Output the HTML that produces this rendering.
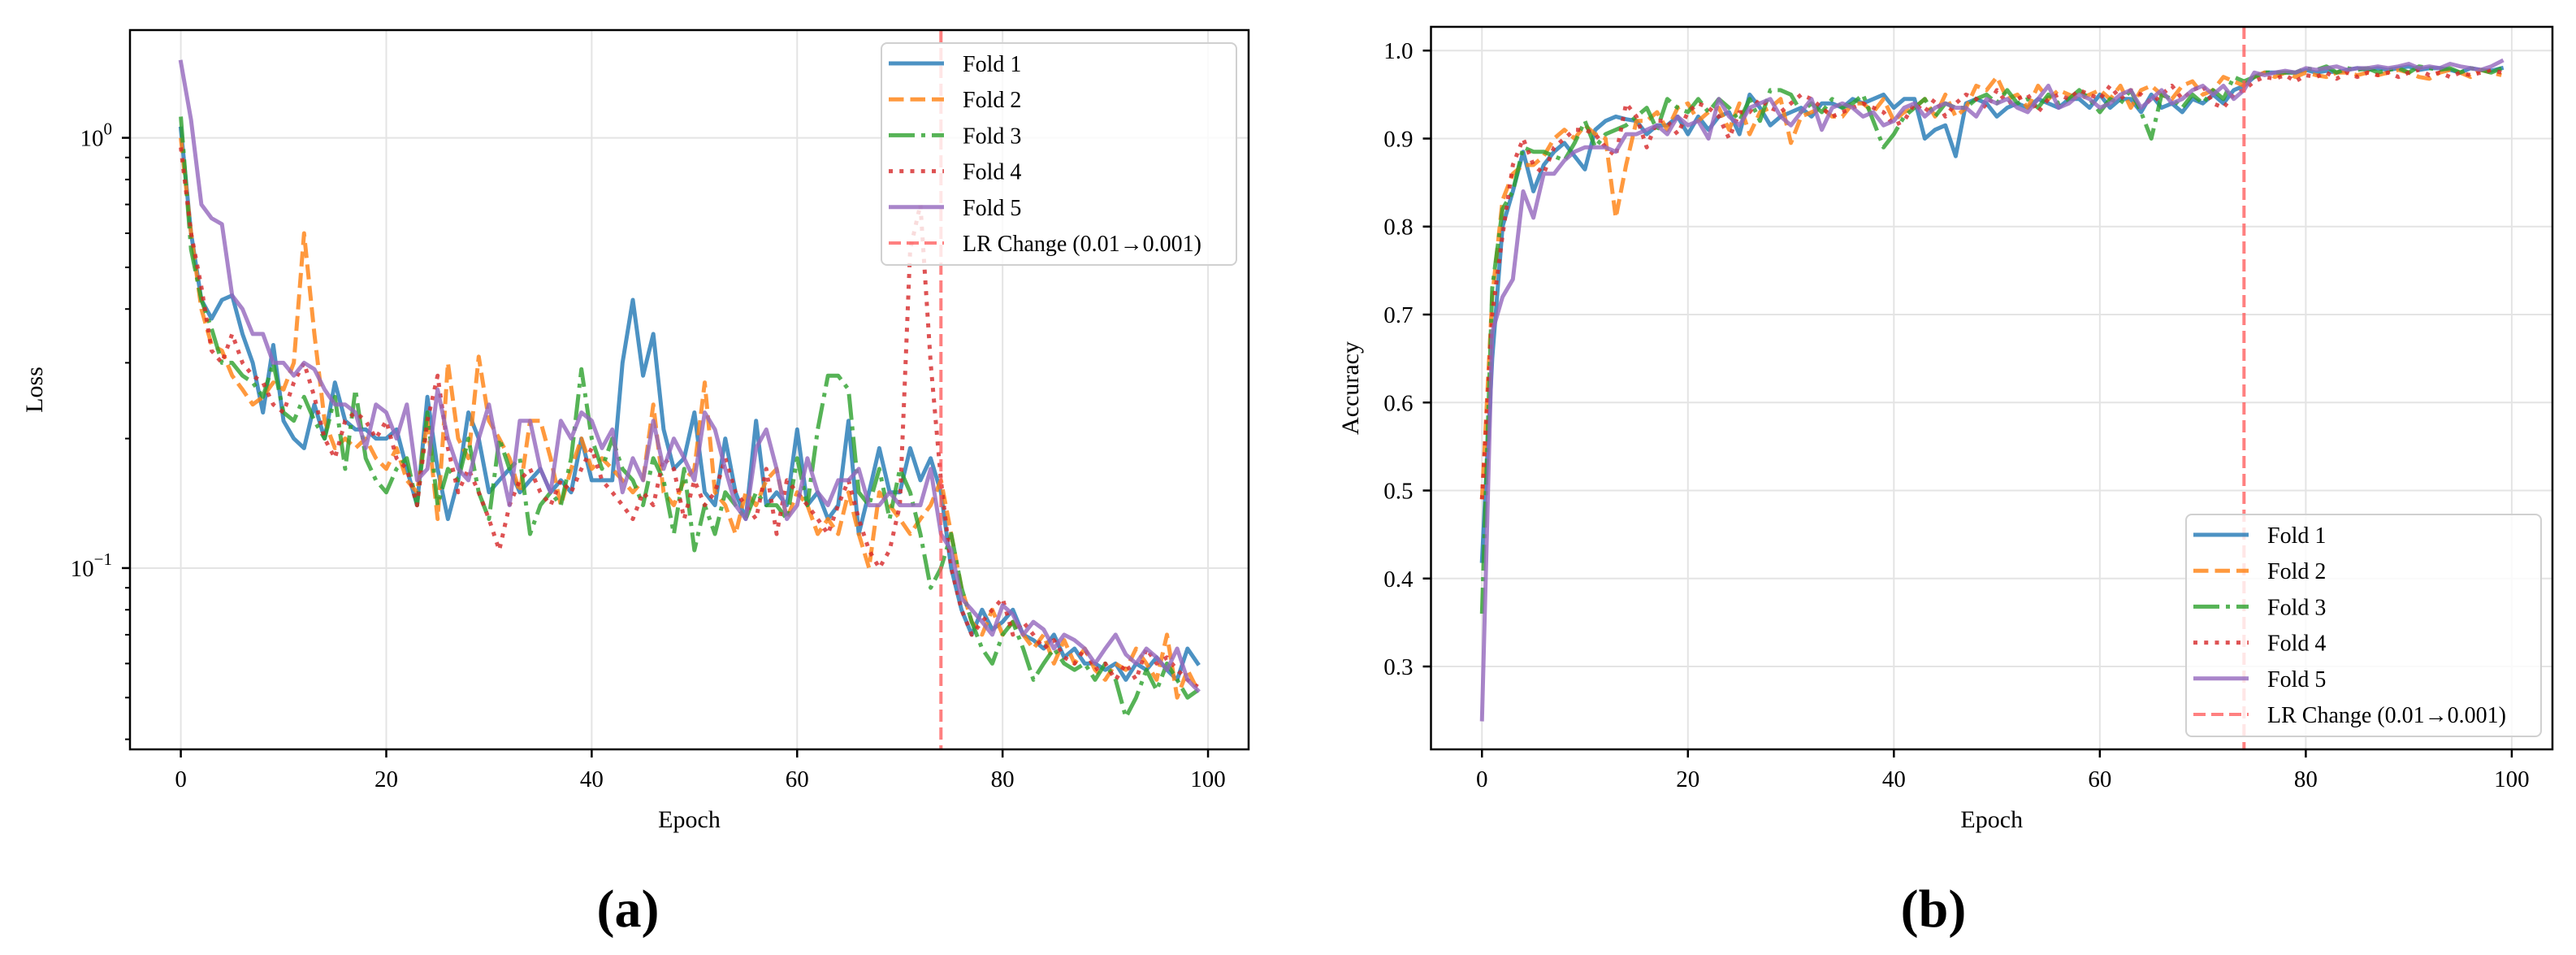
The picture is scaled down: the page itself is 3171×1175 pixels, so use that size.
<!DOCTYPE html>
<html><head><meta charset="utf-8"><title>Cross-validation loss and accuracy by epoch</title>
<style>html,body{margin:0;padding:0;background:#fff;}svg{display:block;font-family:"Liberation Serif",serif;}</style>
</head><body>
<svg id="fig" width="3171" height="1175" viewBox="0 0 3171 1175" xmlns="http://www.w3.org/2000/svg"></svg>
<script>
const epochs = Array.from({length:100},(_, i)=>i);
const foldNames = ["Fold 1","Fold 2","Fold 3","Fold 4","Fold 5"];
const lrEpoch = 74;
const lossXTicks = [0,20,40,60,80,100];
const accYTicks = [0.3,0.4,0.5,0.6,0.7,0.8,0.9,1.0];
const lossFold1 = [1.05,0.6,0.42,0.38,0.42,0.43,0.35,0.3,0.23,0.33,0.22,0.2,0.19,0.24,0.2,0.27,0.22,0.21,0.21,0.2,0.2,0.21,0.17,0.14,0.25,0.17,0.13,0.16,0.23,0.2,0.15,0.16,0.17,0.15,0.16,0.17,0.15,0.16,0.15,0.2,0.16,0.16,0.16,0.3,0.42,0.28,0.35,0.21,0.17,0.18,0.23,0.15,0.14,0.2,0.15,0.13,0.22,0.14,0.15,0.14,0.21,0.14,0.15,0.13,0.14,0.22,0.12,0.15,0.19,0.15,0.15,0.19,0.16,0.18,0.15,0.1,0.08,0.07,0.08,0.072,0.075,0.08,0.07,0.068,0.065,0.07,0.062,0.065,0.06,0.06,0.058,0.06,0.055,0.06,0.058,0.062,0.058,0.055,0.065,0.06];
const lossFold2 = [1.0,0.6,0.4,0.33,0.32,0.28,0.26,0.24,0.25,0.27,0.26,0.3,0.6,0.35,0.22,0.19,0.2,0.19,0.2,0.18,0.17,0.19,0.16,0.15,0.22,0.13,0.3,0.2,0.18,0.31,0.22,0.2,0.18,0.15,0.22,0.22,0.18,0.14,0.17,0.2,0.17,0.18,0.17,0.16,0.15,0.16,0.24,0.15,0.14,0.16,0.17,0.27,0.15,0.14,0.12,0.15,0.14,0.16,0.17,0.13,0.15,0.14,0.12,0.13,0.12,0.15,0.12,0.1,0.15,0.14,0.13,0.12,0.13,0.14,0.16,0.12,0.09,0.075,0.07,0.08,0.07,0.075,0.07,0.065,0.07,0.06,0.068,0.06,0.065,0.058,0.055,0.06,0.058,0.065,0.06,0.055,0.07,0.05,0.058,0.052];
const lossFold3 = [1.12,0.55,0.42,0.36,0.3,0.3,0.28,0.27,0.25,0.3,0.23,0.22,0.25,0.22,0.2,0.25,0.17,0.26,0.18,0.16,0.15,0.17,0.18,0.14,0.23,0.14,0.17,0.16,0.2,0.15,0.13,0.2,0.17,0.18,0.12,0.14,0.15,0.14,0.18,0.29,0.2,0.17,0.2,0.17,0.16,0.14,0.18,0.16,0.12,0.17,0.11,0.14,0.12,0.15,0.14,0.13,0.15,0.14,0.14,0.13,0.18,0.14,0.21,0.28,0.28,0.26,0.15,0.14,0.17,0.13,0.17,0.15,0.12,0.09,0.1,0.12,0.09,0.075,0.065,0.06,0.07,0.075,0.065,0.055,0.06,0.065,0.06,0.058,0.06,0.055,0.06,0.055,0.045,0.05,0.058,0.052,0.06,0.055,0.05,0.052];
const lossFold4 = [0.95,0.6,0.45,0.32,0.3,0.35,0.3,0.28,0.27,0.24,0.23,0.27,0.3,0.25,0.2,0.18,0.22,0.23,0.22,0.2,0.22,0.18,0.17,0.14,0.22,0.28,0.19,0.15,0.17,0.15,0.13,0.11,0.14,0.16,0.17,0.15,0.14,0.16,0.15,0.17,0.19,0.16,0.15,0.14,0.13,0.15,0.14,0.18,0.17,0.13,0.16,0.14,0.15,0.18,0.15,0.14,0.13,0.17,0.12,0.16,0.15,0.14,0.13,0.12,0.14,0.16,0.13,0.11,0.1,0.11,0.14,0.55,0.7,0.3,0.16,0.1,0.08,0.07,0.075,0.08,0.085,0.07,0.075,0.07,0.065,0.068,0.062,0.06,0.065,0.058,0.06,0.055,0.06,0.055,0.065,0.06,0.062,0.058,0.055,0.053];
const lossFold5 = [1.5,1.1,0.7,0.65,0.63,0.43,0.4,0.35,0.35,0.3,0.3,0.28,0.3,0.29,0.26,0.24,0.24,0.23,0.19,0.24,0.23,0.2,0.24,0.16,0.17,0.26,0.2,0.17,0.16,0.2,0.24,0.18,0.14,0.22,0.22,0.17,0.15,0.22,0.2,0.23,0.22,0.19,0.21,0.15,0.18,0.16,0.22,0.17,0.2,0.18,0.16,0.23,0.21,0.17,0.14,0.13,0.19,0.21,0.17,0.13,0.14,0.18,0.15,0.14,0.16,0.16,0.17,0.14,0.14,0.15,0.14,0.14,0.14,0.17,0.12,0.11,0.085,0.08,0.075,0.07,0.082,0.078,0.07,0.075,0.072,0.065,0.07,0.068,0.065,0.06,0.065,0.07,0.063,0.06,0.065,0.062,0.058,0.065,0.055,0.052];
const accFold1 = [0.42,0.65,0.8,0.84,0.885,0.84,0.87,0.885,0.895,0.88,0.865,0.91,0.92,0.925,0.922,0.92,0.905,0.915,0.915,0.925,0.905,0.925,0.91,0.925,0.93,0.905,0.95,0.935,0.915,0.925,0.93,0.935,0.925,0.94,0.94,0.935,0.945,0.94,0.945,0.95,0.935,0.945,0.945,0.9,0.91,0.915,0.88,0.94,0.945,0.94,0.925,0.935,0.94,0.935,0.945,0.94,0.935,0.945,0.945,0.935,0.95,0.935,0.945,0.945,0.93,0.95,0.935,0.94,0.93,0.945,0.94,0.95,0.94,0.955,0.96,0.97,0.975,0.975,0.975,0.975,0.978,0.975,0.977,0.975,0.978,0.98,0.978,0.98,0.978,0.98,0.982,0.978,0.98,0.98,0.978,0.975,0.98,0.978,0.977,0.98];
const accFold2 = [0.49,0.72,0.83,0.86,0.87,0.87,0.88,0.9,0.91,0.9,0.915,0.905,0.9,0.81,0.87,0.92,0.92,0.93,0.91,0.935,0.94,0.92,0.93,0.935,0.91,0.94,0.905,0.93,0.935,0.945,0.895,0.925,0.93,0.935,0.925,0.925,0.94,0.94,0.93,0.945,0.92,0.93,0.935,0.945,0.925,0.95,0.925,0.935,0.96,0.955,0.97,0.945,0.95,0.935,0.96,0.945,0.955,0.95,0.945,0.95,0.955,0.945,0.96,0.935,0.955,0.96,0.95,0.945,0.96,0.965,0.95,0.955,0.97,0.965,0.96,0.97,0.975,0.97,0.975,0.97,0.975,0.972,0.97,0.975,0.975,0.972,0.975,0.972,0.975,0.978,0.975,0.97,0.968,0.975,0.978,0.975,0.97,0.978,0.975,0.972];
const accFold3 = [0.36,0.73,0.82,0.84,0.89,0.885,0.885,0.88,0.875,0.895,0.92,0.89,0.905,0.91,0.915,0.925,0.935,0.91,0.945,0.935,0.93,0.945,0.93,0.945,0.935,0.92,0.945,0.92,0.955,0.955,0.95,0.93,0.94,0.93,0.945,0.935,0.94,0.95,0.92,0.89,0.905,0.925,0.935,0.945,0.925,0.94,0.935,0.935,0.945,0.95,0.94,0.955,0.94,0.945,0.935,0.95,0.94,0.945,0.955,0.945,0.93,0.945,0.94,0.955,0.93,0.9,0.95,0.945,0.935,0.95,0.94,0.955,0.945,0.97,0.965,0.97,0.975,0.975,0.975,0.975,0.98,0.978,0.982,0.975,0.98,0.978,0.98,0.975,0.978,0.98,0.975,0.982,0.98,0.978,0.98,0.975,0.98,0.978,0.975,0.98];
const accFold4 = [0.49,0.7,0.79,0.87,0.9,0.87,0.86,0.89,0.9,0.91,0.91,0.905,0.89,0.88,0.94,0.925,0.89,0.92,0.92,0.905,0.93,0.94,0.935,0.925,0.9,0.93,0.93,0.945,0.935,0.93,0.94,0.95,0.945,0.935,0.925,0.93,0.935,0.94,0.935,0.93,0.915,0.92,0.94,0.93,0.945,0.925,0.94,0.95,0.945,0.935,0.955,0.94,0.945,0.95,0.93,0.945,0.95,0.945,0.955,0.95,0.945,0.96,0.945,0.955,0.95,0.94,0.95,0.96,0.945,0.955,0.96,0.94,0.935,0.95,0.955,0.965,0.97,0.968,0.972,0.965,0.972,0.97,0.975,0.968,0.975,0.97,0.975,0.972,0.975,0.97,0.975,0.978,0.972,0.975,0.97,0.975,0.972,0.975,0.978,0.975];
const accFold5 = [0.24,0.68,0.72,0.74,0.84,0.81,0.86,0.86,0.875,0.885,0.89,0.89,0.89,0.885,0.905,0.905,0.91,0.915,0.905,0.925,0.915,0.92,0.9,0.945,0.925,0.915,0.935,0.94,0.945,0.925,0.915,0.93,0.945,0.91,0.935,0.94,0.935,0.925,0.93,0.915,0.92,0.935,0.94,0.925,0.935,0.94,0.935,0.935,0.925,0.945,0.94,0.945,0.935,0.93,0.945,0.96,0.935,0.94,0.95,0.945,0.935,0.94,0.95,0.955,0.935,0.945,0.955,0.94,0.945,0.955,0.96,0.95,0.96,0.945,0.955,0.975,0.972,0.975,0.977,0.975,0.98,0.978,0.98,0.982,0.978,0.98,0.98,0.982,0.98,0.982,0.985,0.98,0.982,0.98,0.985,0.982,0.98,0.978,0.982,0.988];

const lossSeries = [lossFold1,lossFold2,lossFold3,lossFold4,lossFold5];
const accSeries = [accFold1,accFold2,accFold3,accFold4,accFold5];
const colors = ["#1f77b4","#ff7f0e","#2ca02c","#d62728","#9467bd"];
const dashes = ["", "18.5,8", "32,8,5,8", "5,8.25", ""];

const NS = "http://www.w3.org/2000/svg";
const svg = document.getElementById("fig");
function mk(tag, attrs, parent){
  const e = document.createElementNS(NS, tag);
  for (const k in attrs) e.setAttribute(k, attrs[k]);
  (parent||svg).appendChild(e);
  return e;
}

function drawPanel(p){
  const g = mk("g", {});
  
  
  const xs = v => p.L + (v - p.xmin)/(p.xmax - p.xmin)*(p.R - p.L);
  const ys = p.ys;
  // clip
  const cp = mk("clipPath", {id: p.name + "-clip"}, g);
  mk("rect", {x:p.L, y:p.T, width:p.R-p.L, height:p.B-p.T}, cp);
  // grid
  const grid = mk("g", {}, g);
  
  
  lossXTicks.forEach(t => { mk("line", {x1:xs(t), x2:xs(t), y1:p.T, y2:p.B, stroke:"#e4e4e4", "stroke-width":2}, grid); });
  p.yTicks.forEach(t => { mk("line", {x1:p.L, x2:p.R, y1:ys(t), y2:ys(t), stroke:"#e4e4e4", "stroke-width":2}, grid); });
  // series
  const sg = mk("g", {"clip-path":"url(#" + p.name + "-clip)"}, g);
  p.series.forEach((arr, si) => {
    const pts = epochs.map(e => xs(e).toFixed(1) + "," + ys(arr[e]).toFixed(1)).join(" ");
    const pl = mk("polyline", {points:pts, fill:"none", stroke:colors[si], "stroke-width":5, "stroke-opacity":0.8, "stroke-linejoin":"round", "stroke-linecap": dashes[si] ? "butt" : "square"}, sg);
    if (dashes[si]) pl.setAttribute("stroke-dasharray", dashes[si]);
    
    
  });
  const lr = mk("line", {x1:xs(lrEpoch), x2:xs(lrEpoch), y1:p.T, y2:p.B, stroke:"#ff5555", "stroke-opacity":0.75, "stroke-width":4, "stroke-dasharray":"15,7"}, sg);
  
  
  // spines
  const sp = mk("rect", {x:p.L, y:p.T, width:p.R-p.L, height:p.B-p.T, fill:"none", stroke:"#000", "stroke-width":2.5}, g);
  
  
  // x ticks
  lossXTicks.forEach(t => {
    const x = xs(t);
    mk("line", {x1:x, x2:x, y1:p.B, y2:p.B+10, stroke:"#000", "stroke-width":2.5}, g);
    const tx = mk("text", {x:x, y:p.B+46, "text-anchor":"middle", "font-size":29, fill:"#000"}, g);
    tx.textContent = t;
    
    
  });
  // y ticks
  p.yTicks.forEach((t, i) => {
    const y = ys(t);
    mk("line", {x1:p.L-10, x2:p.L, y1:y, y2:y, stroke:"#000", "stroke-width":2.5}, g);
    const tx = mk("text", {x:p.L-22, y:y+10, "text-anchor":"end", "font-size":29, fill:"#000"}, g);
    if (p.log) {
      tx.textContent = "10";
      const sup = mk("tspan", {dy:-14, "font-size":21}, tx);
      sup.textContent = p.yLabels[i];
    } else {
      tx.textContent = p.yLabels[i];
    }
    
    
  });
  (p.minor||[]).forEach(t => {
    const y = ys(t);
    mk("line", {x1:p.L-6, x2:p.L, y1:y, y2:y, stroke:"#000", "stroke-width":2}, g);
  });
  // axis labels
  const xl = mk("text", {x:(p.L+p.R)/2, y:1018, "text-anchor":"middle", "font-size":30, fill:"#000"}, g);
  xl.textContent = "Epoch";
  
  
  const yx = p.yLabelX, yy = (p.T+p.B)/2;
  const yl = mk("text", {x:yx, y:yy, "text-anchor":"middle", "font-size":30, fill:"#000", transform:"rotate(-90 "+yx+" "+yy+")"}, g);
  yl.textContent = p.yTitle;
  
  
  // legend
  const lg = mk("g", {}, g);
  
  
  mk("rect", {x:p.legX, y:p.legY, width:437, height:273, rx:7, fill:"#fff", "fill-opacity":0.8, stroke:"#d0d0d0", "stroke-width":2}, lg);
  const labels = foldNames.concat(["LR Change (0.01\u21920.001)"]);
  labels.forEach((lab, i) => {
    const y = p.legY + 25 + i*44.2;
    const ent = mk("g", {}, lg);
    
    
    const isLR = i === 5;
    const hl = mk("line", {x1:p.legX+9, x2:p.legX+77, y1:y, y2:y, stroke: isLR ? "#ff5555" : colors[i], "stroke-opacity": isLR ? 0.75 : 0.8, "stroke-width": isLR ? 4 : 5, "stroke-linecap":"butt"}, ent);
    const d = isLR ? "15,7" : dashes[i];
    if (d) hl.setAttribute("stroke-dasharray", d);
    const t = mk("text", {x:p.legX+100, y:y+10, "font-size":28, fill:"#000"}, ent);
    t.textContent = lab;
  });
  // caption
  const cap = mk("text", {x:p.capX, y:1140, "text-anchor":"middle", "font-size":66, "font-weight":"bold", fill:"#000"}, g);
  cap.textContent = p.caption;
  
  
}

const lmin = Math.log10(0.0379), lmax = Math.log10(1.78);
drawPanel({
  name:"loss-panel", L:160, R:1537, T:37, B:922, xmin:-4.95, xmax:103.95,
  ys: v => 922 - (Math.log10(v) - lmin)/(lmax - lmin)*885,
  yTicks:[1,0.1], yLabels:["0","\u22121"], log:true,
  minor:[0.04,0.05,0.06,0.07,0.08,0.09,0.2,0.3,0.4,0.5,0.6,0.7,0.8,0.9],
  series: lossSeries, yTitle:"Loss", yLabelX:52,
  legX:1085, legY:53, capX:773, caption:"(a)"
});
drawPanel({
  name:"accuracy-panel", L:1761.5, R:3142, T:33, B:922, xmin:-4.95, xmax:103.95,
  ys: v => 922 - (v - 0.2058)/(1.027 - 0.2058)*889,
  yTicks: accYTicks, yLabels: accYTicks.map(v => v.toFixed(1)), log:false,
  series: accSeries, yTitle:"Accuracy", yLabelX:1672,
  legX:2691, legY:633, capX:2380, caption:"(b)"
});
</script>
</body></html>
